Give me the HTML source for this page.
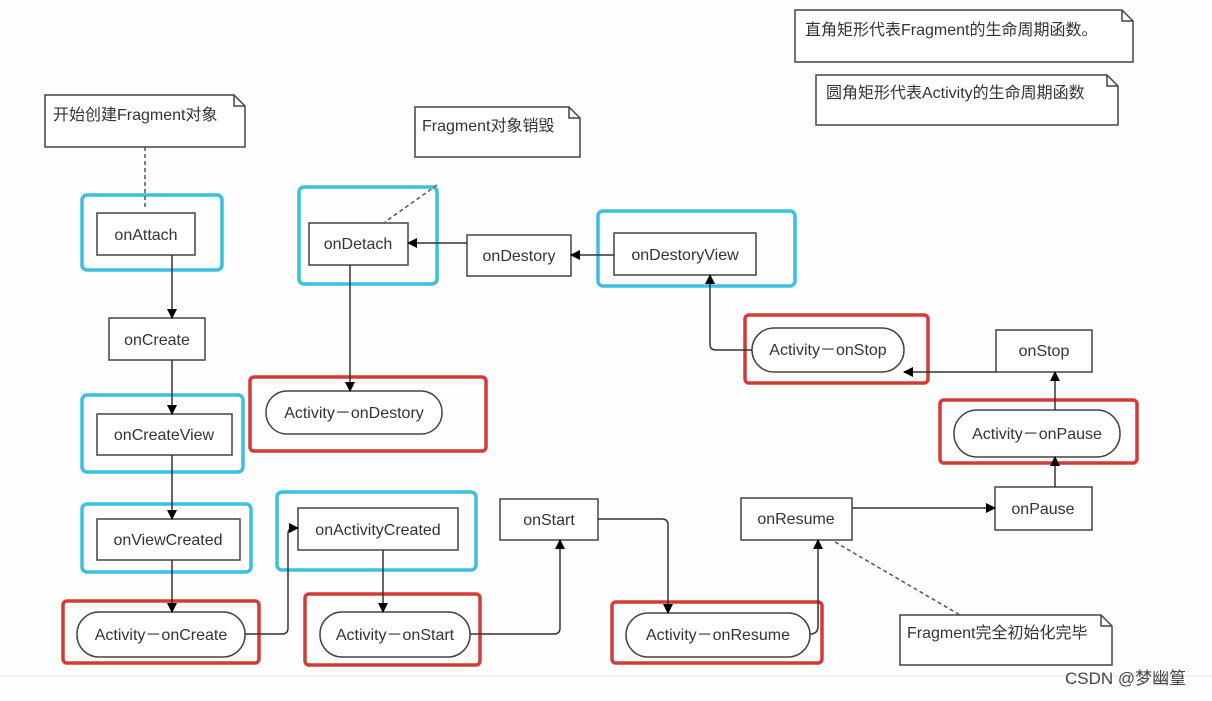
<!DOCTYPE html>
<html><head><meta charset="utf-8"><style>
body{margin:0;background:#fff;}
svg text{font-family:"Liberation Sans","Noto Sans CJK SC",sans-serif;fill:#333;font-size:16px;}
</style></head><body>
<svg width="1212" height="696" viewBox="0 0 1212 696" xmlns="http://www.w3.org/2000/svg">
<defs><marker id="a" markerWidth="10" markerHeight="10" refX="9" refY="5" orient="auto" markerUnits="userSpaceOnUse"><path d="M0,0 L10,5 L0,10 z" fill="#000"/></marker></defs>
<rect width="1212" height="696" fill="#fdfdfd"/>
<line x1="0" y1="676" x2="1212" y2="676" stroke="#e6e6e6"/>
<g fill="#fff" stroke="#444" stroke-width="1.5">
<path d="M795,10 H1122 L1133,21 V62 H795 Z"/><path d="M1122,10 V21 H1133" fill="none"/>
<path d="M816,75 H1107 L1118,86 V125 H816 Z"/><path d="M1107,75 V86 H1118" fill="none"/>
<path d="M45,95 H234 L245,106 V147 H45 Z"/><path d="M234,95 V106 H245" fill="none"/>
<path d="M415,107 H569 L580,118 V157 H415 Z"/><path d="M569,107 V118 H580" fill="none"/>
<path d="M900,615 H1101 L1112,626 V665 H900 Z"/><path d="M1101,615 V626 H1112" fill="none"/>
</g>
<g fill="none" stroke-width="3.5">
<rect x="82" y="195" width="140" height="75" rx="5" stroke="#3cc0e0"/>
<rect x="82" y="395" width="161" height="77" rx="5" stroke="#3cc0e0"/>
<rect x="82" y="504" width="169" height="68" rx="5" stroke="#3cc0e0"/>
<rect x="277" y="492" width="199" height="78" rx="5" stroke="#3cc0e0"/>
<rect x="598" y="211" width="197" height="75" rx="5" stroke="#3cc0e0"/>
<rect x="299" y="187" width="138" height="97" rx="5" stroke="#3cc0e0"/>
<rect x="63" y="601" width="196" height="62" rx="4" stroke="#d23c35"/>
<rect x="305" y="594" width="175" height="71" rx="4" stroke="#d23c35"/>
<rect x="612" y="602" width="210" height="61" rx="4" stroke="#d23c35"/>
<rect x="940" y="400" width="197" height="63" rx="4" stroke="#d23c35"/>
<rect x="745" y="315" width="183" height="68" rx="4" stroke="#d23c35"/>
<rect x="250" y="377" width="236" height="74" rx="4" stroke="#d23c35"/>
</g>
<g fill="#fff" stroke="#444" stroke-width="1.5">
<rect x="97" y="213" width="98" height="42"/>
<rect x="109" y="318" width="96" height="42"/>
<rect x="97" y="414" width="135" height="41"/>
<rect x="97" y="519" width="143" height="41"/>
<rect x="298" y="508" width="160" height="42"/>
<rect x="500" y="499" width="98" height="41"/>
<rect x="741" y="498" width="111" height="42"/>
<rect x="995" y="487" width="97" height="43"/>
<rect x="996" y="330" width="96" height="42"/>
<rect x="614" y="233" width="142" height="42"/>
<rect x="467" y="235" width="104" height="41"/>
<rect x="309" y="223" width="99" height="42"/>
<rect x="77" y="612" width="168" height="45" rx="22"/>
<rect x="320" y="612" width="150" height="45" rx="22"/>
<rect x="626" y="613" width="184" height="44" rx="22"/>
<rect x="954" y="410" width="166" height="47" rx="23"/>
<rect x="752" y="328" width="152" height="44" rx="22"/>
<rect x="266" y="391" width="176" height="43" rx="21"/>
</g>
<g fill="none" stroke="#333" stroke-width="1.5" marker-end="url(#a)">
<path d="M172,255 V318"/><path d="M172,360 V414"/><path d="M172,455 V519"/><path d="M172,560 V612"/>
<path d="M245,634 H282 Q288,634 288,628 V534 Q288,528 294,528 H298"/>
<path d="M383,550 V612"/>
<path d="M470,634 H554 Q560,634 560,628 V540"/>
<path d="M598,519 H662 Q668,519 668,525 V613"/>
<path d="M810,634 Q818,634 818,626 V540"/>
<path d="M852,508 H995"/>
<path d="M1055,487 V457"/><path d="M1055,410 V372"/>
<path d="M996,372 H904"/>
<path d="M752,350 H716 Q710,350 710,344 V275"/>
<path d="M614,255 H571"/><path d="M467,243 H408"/>
<path d="M350,265 V391"/>
</g>
<g fill="none" stroke="#555" stroke-width="1.5" stroke-dasharray="4,3">
<path d="M145,147 V208"/><path d="M437,185 L385,222"/><path d="M835,542 L960,615"/>
</g>
<g>
<text x="805" y="35">直角矩形代表Fragment的生命周期函数。</text>
<text x="826" y="98">圆角矩形代表Activity的生命周期函数</text>
<text x="53" y="120">开始创建Fragment对象</text>
<text x="422" y="131">Fragment对象销毁</text>
<text x="907" y="638">Fragment完全初始化完毕</text>
<text x="146" y="240" text-anchor="middle">onAttach</text>
<text x="157" y="345" text-anchor="middle">onCreate</text>
<text x="164" y="440" text-anchor="middle">onCreateView</text>
<text x="168" y="545" text-anchor="middle">onViewCreated</text>
<text x="378" y="535" text-anchor="middle">onActivityCreated</text>
<text x="549" y="525" text-anchor="middle">onStart</text>
<text x="796" y="524" text-anchor="middle">onResume</text>
<text x="1043" y="514" text-anchor="middle">onPause</text>
<text x="1044" y="356" text-anchor="middle">onStop</text>
<text x="685" y="260" text-anchor="middle">onDestoryView</text>
<text x="519" y="261" text-anchor="middle">onDestory</text>
<text x="358" y="249" text-anchor="middle">onDetach</text>
<text x="161" y="640" text-anchor="middle">Activity－onCreate</text>
<text x="395" y="640" text-anchor="middle">Activity－onStart</text>
<text x="718" y="640" text-anchor="middle">Activity－onResume</text>
<text x="1037" y="439" text-anchor="middle">Activity－onPause</text>
<text x="828" y="355" text-anchor="middle">Activity－onStop</text>
<text x="354" y="418" text-anchor="middle">Activity－onDestory</text>
<text x="1065" y="684" style="font-size:17px;fill:#444">CSDN @梦幽篁</text>
</g>
</svg>
</body></html>
